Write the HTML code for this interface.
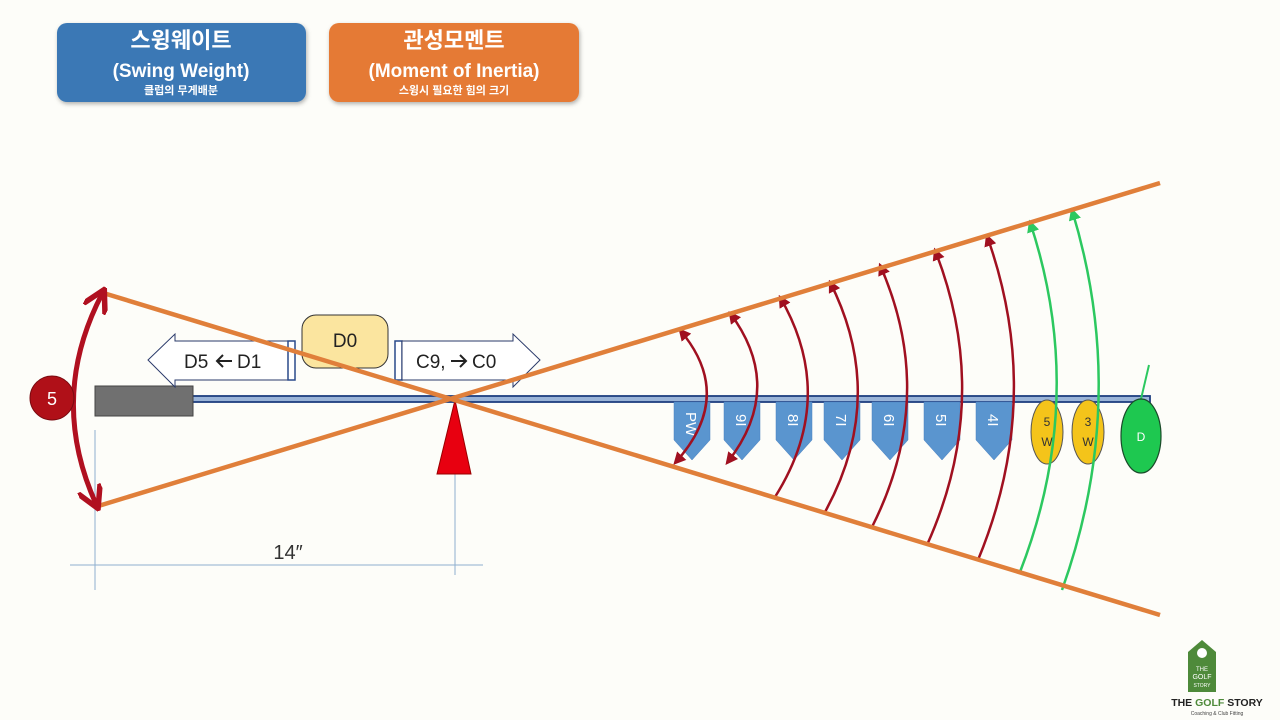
<!DOCTYPE html>
<html><head><meta charset="utf-8"><style>
body{margin:0;background:#fdfdf9;}
svg{display:block;font-family:"Liberation Sans","Noto Sans CJK KR",sans-serif;}
</style></head><body>
<svg width="1280" height="720" viewBox="0 0 1280 720">
<defs>
<marker id="ar" viewBox="0 0 10 10" refX="8" refY="5" markerWidth="5" markerHeight="5" orient="auto-start-reverse"><path d="M0,0 L10,5 L0,10 z" fill="#a01020"/></marker>
<marker id="ag" viewBox="0 0 10 10" refX="8" refY="5" markerWidth="5" markerHeight="5" orient="auto-start-reverse"><path d="M0,0 L10,5 L0,10 z" fill="#2cc860"/></marker>
<marker id="abig" viewBox="0 0 10 10" refX="7" refY="5" markerWidth="5" markerHeight="5" orient="auto-start-reverse"><path d="M0,0 L9,5 L0,10" fill="none" stroke="#b01020" stroke-width="2.2"/></marker>
<filter id="sh"><feDropShadow dx="1" dy="2" stdDeviation="2" flood-opacity="0.3"/></filter>
</defs>
<rect width="1280" height="720" fill="#fdfdf9"/>
<rect x="57" y="23" width="249" height="79" rx="10" fill="#3a78b5" filter="url(#sh)"/>
<text x="181" y="48" fill="#fff" font-size="22" font-weight="bold" text-anchor="middle">스윙웨이트</text>
<text x="181" y="77" fill="#fff" font-size="19" font-weight="bold" text-anchor="middle">(Swing Weight)</text>
<text x="181" y="94" fill="#fff" font-size="11" font-weight="bold" text-anchor="middle">클럽의 무게배분</text>
<rect x="329" y="23" width="250" height="79" rx="10" fill="#e57a35" filter="url(#sh)"/>
<text x="454" y="48" fill="#fff" font-size="22" font-weight="bold" text-anchor="middle">관성모멘트</text>
<text x="454" y="77" fill="#fff" font-size="19" font-weight="bold" text-anchor="middle">(Moment of Inertia)</text>
<text x="454" y="94" fill="#fff" font-size="11" font-weight="bold" text-anchor="middle">스윙시 필요한 힘의 크기</text>

<line x1="95" y1="430" x2="95" y2="590" stroke="#8fb0d0" stroke-width="1"/>
<line x1="455" y1="400" x2="455" y2="575" stroke="#8fb0d0" stroke-width="1"/>
<line x1="70" y1="565" x2="483" y2="565" stroke="#8fb0d0" stroke-width="1"/>
<text x="288" y="559" font-size="20" fill="#333" text-anchor="middle">14″</text>

<rect x="190" y="396" width="960" height="6" fill="#9ab4d8" stroke="#1f3f80" stroke-width="1.8"/>
<rect x="95" y="386" width="98" height="30" fill="#707070" stroke="#444" stroke-width="1"/>
<line x1="1141" y1="399" x2="1149" y2="365" stroke="#2cc860" stroke-width="2"/>

<path d="M148,360 L175,334 L175,341 L288,341 L288,380 L175,380 L175,387 Z" fill="#fff" stroke="#2a3a6a" stroke-width="1"/>
<rect x="288" y="341" width="7" height="39" fill="#fff" stroke="#2a4a8a" stroke-width="1.5"/>
<text x="184" y="368" font-size="19" fill="#222">D5</text>
<path d="M232,361 h-15 M223,355 l-6,6 l6,6" fill="none" stroke="#222" stroke-width="2"/>
<text x="237" y="368" font-size="19" fill="#222">D1</text>
<rect x="302" y="315" width="86" height="53" rx="14" fill="#fbe59f" stroke="#333" stroke-width="1"/>
<text x="345" y="347" font-size="19" fill="#222" text-anchor="middle">D0</text>
<rect x="395" y="341" width="7" height="39" fill="#fff" stroke="#2a4a8a" stroke-width="1.5"/>
<path d="M402,341 L513,341 L513,334 L540,360 L513,387 L513,380 L402,380 Z" fill="#fff" stroke="#2a3a6a" stroke-width="1"/>
<text x="416" y="368" font-size="19" fill="#222">C9,</text>
<path d="M451,361 h15 M460,355 l6,6 l-6,6" fill="none" stroke="#222" stroke-width="2"/>
<text x="472" y="368" font-size="19" fill="#222">C0</text>

<path d="M455,400 L471,474 L437,474 Z" fill="#e80010" stroke="#900" stroke-width="1"/>

<g fill="#5a95cf" stroke="#4a80c0" stroke-width="0.5">
<path d="M674,402 h36 v38 l-18,20 l-18,-20 z"/>
<path d="M724,402 h36 v38 l-18,20 l-18,-20 z"/>
<path d="M776,402 h36 v38 l-18,20 l-18,-20 z"/>
<path d="M824,402 h36 v38 l-18,20 l-18,-20 z"/>
<path d="M872,402 h36 v38 l-18,20 l-18,-20 z"/>
<path d="M924,402 h36 v38 l-18,20 l-18,-20 z"/>
<path d="M976,402 h36 v38 l-18,20 l-18,-20 z"/>
</g>
<g fill="#fff" font-size="15">
<text transform="translate(686,412) rotate(90)">PW</text>
<text transform="translate(736,414) rotate(90)">9I</text>
<text transform="translate(788,414) rotate(90)">8I</text>
<text transform="translate(836,414) rotate(90)">7I</text>
<text transform="translate(884,414) rotate(90)">6I</text>
<text transform="translate(936,414) rotate(90)">5I</text>
<text transform="translate(988,414) rotate(90)">4I</text>
</g>
<ellipse cx="1047" cy="432" rx="16" ry="32" fill="#f4c41a" stroke="#555" stroke-width="1"/>
<ellipse cx="1088" cy="432" rx="16" ry="32" fill="#f4c41a" stroke="#555" stroke-width="1"/>
<text x="1047" y="426" font-size="12" fill="#333" text-anchor="middle">5</text>
<text x="1047" y="446" font-size="12" fill="#333" text-anchor="middle">W</text>
<text x="1088" y="426" font-size="12" fill="#333" text-anchor="middle">3</text>
<text x="1088" y="446" font-size="12" fill="#333" text-anchor="middle">W</text>
<ellipse cx="1141" cy="436" rx="20" ry="37" fill="#1ec850" stroke="#1a4a2a" stroke-width="1.2"/>
<text x="1141" y="441" font-size="12" fill="#fff" text-anchor="middle">D</text>

<g fill="none" stroke="#a01020" stroke-width="2.5">
<path d="M680,330 Q736,396 675,463" marker-start="url(#ar)" marker-end="url(#ar)"/>
<path d="M730,313 Q786,388 727,463" marker-start="url(#ar)" marker-end="url(#ar)"/>
<path d="M780,297 Q838,397 775,497" marker-start="url(#ar)"/>
<path d="M830,282 Q888,397 825,512" marker-start="url(#ar)"/>
<path d="M880,265 Q938,396 872,527" marker-start="url(#ar)"/>
<path d="M935,250 Q993,398 927,545" marker-start="url(#ar)"/>
<path d="M987,236 Q1045,398 978,560" marker-start="url(#ar)"/>
</g>
<g fill="none" stroke="#2cc860" stroke-width="2.5">
<path d="M1030,222 Q1088,397 1020,572" marker-start="url(#ag)"/>
<path d="M1072,210 Q1130,400 1062,590" marker-start="url(#ag)"/>
</g>

<line x1="100" y1="292" x2="1160" y2="615" stroke="#e07f3a" stroke-width="4.5"/>
<line x1="95" y1="507" x2="1160" y2="183" stroke="#e07f3a" stroke-width="4.5"/>

<path d="M102,294 Q48,398 96,504" fill="none" stroke="#b01020" stroke-width="5" marker-start="url(#abig)" marker-end="url(#abig)"/>
<circle cx="52" cy="398" r="22" fill="#b01018" stroke="#7a0a10" stroke-width="1"/>
<text x="52" y="405" font-size="18" fill="#fff" text-anchor="middle">5</text>

<path d="M1188,652 L1202,640 L1216,652 L1216,692 L1188,692 Z" fill="#4e8a3a"/>
<circle cx="1202" cy="653" r="5" fill="#fff"/>
<text x="1202" y="671" font-size="6" fill="#fff" text-anchor="middle">THE</text>
<text x="1202" y="679" font-size="7" fill="#fff" text-anchor="middle">GOLF</text>
<text x="1202" y="687" font-size="5" fill="#fff" text-anchor="middle">STORY</text>
<text x="1217" y="706" font-size="10.5" font-weight="bold" fill="#222" text-anchor="middle">THE <tspan fill="#4e8a3a">GOLF</tspan> STORY</text>
<text x="1217" y="715" font-size="5" fill="#444" text-anchor="middle">Coaching &amp; Club Fitting</text>
</svg>
</body></html>
